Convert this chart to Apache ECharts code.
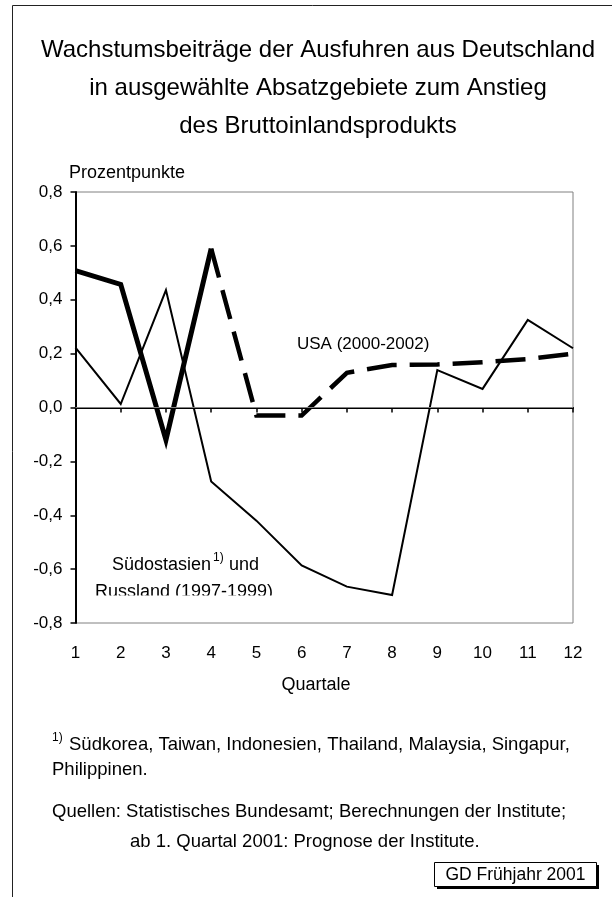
<!DOCTYPE html>
<html>
<head>
<meta charset="utf-8">
<script src="https://cdn.jsdelivr.net/npm/echarts@6/dist/echarts.min.js"></script>
<style>
html,body{margin:0;padding:0;background:#fff;}
#chart{width:612px;height:897px;}
</style>
</head>
<body>
<div id="chart"></div>
<script>
// ---- data ----
const categories = ['1','2','3','4','5','6','7','8','9','10','11','12'];
const usaValues = [0.508, 0.457, -0.12, 0.59, -0.03, -0.03, 0.129, 0.158, 0.16, 0.168, 0.18, 0.20];
const usaForecastFrom = 3; // index from which the USA line is dashed (forecast)
const asiaValues = [0.222, 0.013, 0.436, -0.275, -0.42, -0.586, -0.665, -0.696, 0.139, 0.069, 0.325, 0.22];
const yMin = -0.8, yMax = 0.8, yStep = 0.2;

const titleLines = [
  'Wachstumsbeiträge der Ausfuhren aus Deutschland',
  'in ausgewählte Absatzgebiete zum Anstieg',
  'des Bruttoinlandsprodukts'
];
const yName = 'Prozentpunkte';
const xName = 'Quartale';
const usaLabel = 'USA (2000-2002)';
const asiaLabelMain = 'Südostasien';
const asiaLabelSup = '1)';
const asiaLabelRest = 'und';
const asiaLabel2 = 'Russland (1997-1999)';
const footSup = '1)';
const foot1 = 'Südkorea, Taiwan, Indonesien, Thailand, Malaysia, Singapur,';
const foot2 = 'Philippinen.';
const foot3 = 'Quellen: Statistisches Bundesamt; Berechnungen der Institute;';
const foot4 = 'ab 1. Quartal 2001: Prognose der Institute.';
const boxText = 'GD Frühjahr 2001';

const FONT = 'Liberation Sans, Arial, sans-serif';
const chart = echarts.init(document.getElementById('chart'), null, {renderer:'canvas'});

const usaActual = usaValues.map((v,i) => i <= usaForecastFrom ? v : null);
const usaForecast = usaValues.map((v,i) => i >= usaForecastFrom ? v : null);

function txt(x, y, text, size, align, extra) {
  return Object.assign({
    type: 'text', x: x, y: y, z: 100,
    style: {text: text, font: size + 'px ' + FONT, fill: '#000', align: align || 'left', verticalAlign: 'middle'}
  }, extra || {});
}

const option = {
  animation: false,
  backgroundColor: '#fff',
  grid: {left: 75.5, top: 192, right: 39, bottom: 274, show: true, borderColor: '#808080', borderWidth: 1},
  xAxis: {
    type: 'category', data: categories, boundaryGap: false,
    axisLine: {show: true, lineStyle: {color: '#000', width: 2}},
    axisTick: {show: true, length: 5, lineStyle: {color: '#000', width: 1.5}},
    axisLabel: {fontSize: 17, fontFamily: FONT, color: '#000', margin: 22},
    splitLine: {show: false}
  },
  yAxis: {
    type: 'value', min: yMin, max: yMax, interval: yStep,
    axisLine: {show: true, lineStyle: {color: '#000', width: 2}},
    axisTick: {show: true, length: 5, lineStyle: {color: '#000', width: 1.5}},
    axisLabel: {fontSize: 17, fontFamily: FONT, color: '#000', margin: 13,
      formatter: v => (Math.abs(v) < 1e-9 ? 0 : v).toFixed(1).replace('.', ',')},
    splitLine: {show: false}
  },
  series: [
    {
      name: 'Südostasien und Russland', type: 'line', data: asiaValues, symbol: 'none',
      lineStyle: {color: '#000', width: 2, join: 'miter'}, z: 2,
      markLine: {silent: true, symbol: 'none', label: {show: false},
        lineStyle: {color: '#808080', width: 1, type: 'solid'}, data: [{yAxis: 0}]}
    },
    {
      name: 'USA', type: 'line', data: usaActual, symbol: 'none', connectNulls: false,
      lineStyle: {color: '#000', width: 5, join: 'miter'}, z: 3
    },
    {
      name: 'USA Prognose', type: 'line', data: usaForecast, symbol: 'none', connectNulls: false,
      lineStyle: {color: '#000', width: 4.5, type: [30, 13], cap: 'butt', join: 'miter'}, z: 3
    }
  ],
  graphic: [
    // outer frame
    {type: 'line', shape: {x1: 12.5, y1: 5.5, x2: 612, y2: 5.5}, style: {stroke: '#222', lineWidth: 1}, z: 50},
    {type: 'line', shape: {x1: 12.5, y1: 5.5, x2: 12.5, y2: 897}, style: {stroke: '#222', lineWidth: 1}, z: 50},
    // title
    txt(318, 50, titleLines[0], 24, 'center'),
    txt(318, 88, titleLines[1], 24, 'center'),
    txt(318, 126, titleLines[2], 24, 'center'),
    // axis names
    txt(69, 173, yName, 18, 'left'),
    txt(316, 685, xName, 18, 'center'),
    // series labels
    txt(297, 344, usaLabel, 17, 'left'),
    txt(112, 565, asiaLabelMain, 18, 'left'),
    txt(213, 558, asiaLabelSup, 12, 'left'),
    txt(229, 565, asiaLabelRest, 18, 'left'),
    txt(95, 592, asiaLabel2, 18, 'left'),
    {type: 'rect', shape: {x: 88, y: 595.5, width: 195, height: 14}, style: {fill: '#fff'}, z: 101},
    // footnotes
    txt(52, 738, footSup, 12, 'left'),
    txt(69, 745, foot1, 18.5, 'left'),
    txt(52, 770, foot2, 18.5, 'left'),
    txt(52, 812, foot3, 18.5, 'left'),
    txt(130, 842, foot4, 18.5, 'left'),
    // GD box
    {type: 'rect', shape: {x: 437, y: 865, width: 162, height: 24}, style: {fill: '#000'}, z: 100},
    {type: 'rect', shape: {x: 434.5, y: 862.5, width: 162, height: 24}, style: {fill: '#fff', stroke: '#000', lineWidth: 1}, z: 101},
    txt(515.5, 875, boxText, 17.5, 'center', {z: 102})
  ]
};
chart.setOption(option);
</script>
</body>
</html>
